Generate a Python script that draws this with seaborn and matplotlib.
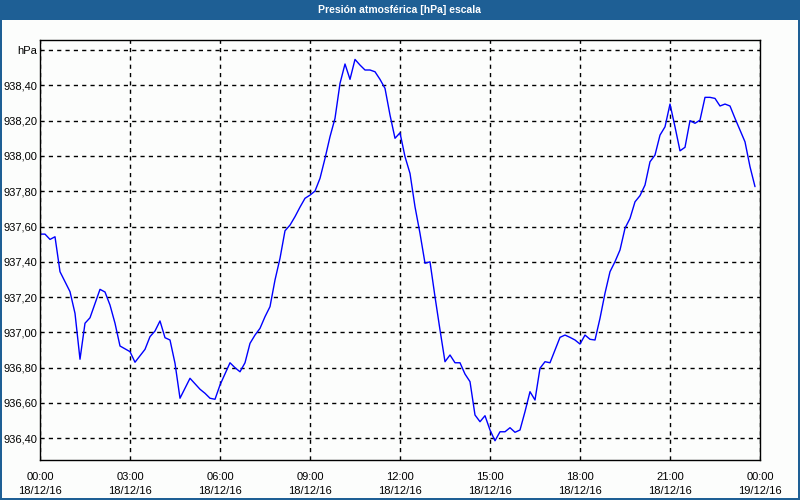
import matplotlib
matplotlib.use("Agg")
import matplotlib.pyplot as plt
import matplotlib.dates as mdates
from matplotlib.patches import Rectangle
from matplotlib.ticker import FixedLocator, FuncFormatter
import seaborn as sns
import pandas as pd

# minutes after 18/12/16 00:00
minutes = [0, 10, 20, 30, 40, 50, 60, 70, 80, 90, 100, 120, 130, 140, 150, 160, 180, 190,
           210, 220, 230, 240, 250, 260, 270, 280, 300, 320, 330, 340, 350, 360, 380, 390,
           400, 410, 420, 430, 440, 450, 460, 470, 480, 490, 500, 510, 520, 530, 540, 550,
           560, 570, 580, 590, 600, 610, 620, 630, 640, 650, 660, 670, 680, 690, 700, 710,
           720, 730, 740, 750, 760, 770, 780, 790, 800, 810, 820, 830, 840, 850, 860, 870,
           880, 890, 900, 910, 920, 930, 940, 950, 960, 970, 980, 990, 1000, 1010, 1020,
           1030, 1040, 1050, 1060, 1070, 1080, 1090, 1100, 1110, 1120, 1130, 1140, 1150,
           1160, 1170, 1180, 1190, 1200, 1210, 1220, 1230, 1240, 1250, 1260, 1270, 1280,
           1290, 1300, 1310, 1320, 1330, 1340, 1350, 1360, 1370, 1380, 1390, 1400, 1410,
           1420, 1430]
pressure = [937.557, 937.557, 937.527, 937.542, 937.344, 937.287, 937.231, 937.108, 936.848,
            937.052, 937.083, 937.244, 937.229, 937.155, 937.052, 936.923, 936.891, 936.831,
            936.904, 936.976, 937.008, 937.065, 936.970, 936.957, 936.825, 936.627, 936.740,
            936.678, 936.655, 936.627, 936.621, 936.702, 936.828, 936.800, 936.777, 936.828,
            936.938, 936.985, 937.023, 937.089, 937.146, 937.297, 937.420, 937.576, 937.608,
            937.656, 937.710, 937.760, 937.778, 937.801, 937.873, 937.986, 938.109, 938.213,
            938.411, 938.521, 938.434, 938.547, 938.515, 938.487, 938.487, 938.477, 938.434,
            938.383, 938.232, 938.100, 938.131, 937.996, 937.901, 937.712, 937.561, 937.392,
            937.400, 937.202, 937.014, 936.834, 936.872, 936.828, 936.828, 936.764, 936.721,
            936.532, 936.494, 936.528, 936.447, 936.386, 936.437, 936.437, 936.460, 936.434,
            936.447, 936.551, 936.664, 936.617, 936.797, 936.834, 936.828, 936.900, 936.972,
            936.985, 936.972, 936.957, 936.934, 936.985, 936.961, 936.957, 937.080, 937.222,
            937.344, 937.401, 937.467, 937.590, 937.646, 937.740, 937.775, 937.835, 937.967,
            938.005, 938.118, 938.165, 938.294, 938.165, 938.029, 938.049, 938.200, 938.185,
            938.203, 938.332, 938.332, 938.326, 938.283, 938.294, 938.283, 938.213, 938.147,
            938.080, 937.939, 937.826]

y_ticks = [936.4, 936.6, 936.8, 937.0, 937.2, 937.4, 937.6, 937.8, 938.0, 938.2, 938.4, 938.6]
unit_label = "hPa"
title = "Presión atmosférica [hPa] escala"
start = pd.Timestamp("2016-12-18 00:00")
end = pd.Timestamp("2016-12-19 00:00")

df = pd.DataFrame({"time": start + pd.to_timedelta(minutes, unit="m"), "p": pressure})

sns.set_style("white")
plt.rcParams["font.family"] = ["Liberation Sans", "DejaVu Sans"]

bg = "#fcfdfc"
bar = "#1e5f95"
fig = plt.figure(figsize=(8, 5), dpi=100, facecolor=bg)
ax = fig.add_axes([0.05, 0.08, 0.90, 0.84])
ax.set_facecolor(bg)

sns.lineplot(data=df, x="time", y="p", ax=ax, color="#0000ff", linewidth=1.0)

ax.set_xlim(start, end)
ax.set_ylim(936.277, 938.657)

ax.xaxis.set_major_locator(mdates.HourLocator(byhour=range(0, 24, 3)))
ax.xaxis.set_minor_locator(mdates.HourLocator())
ax.xaxis.set_major_formatter(mdates.DateFormatter("%H:%M\n%d/%m/%y"))

ax.yaxis.set_major_locator(FixedLocator(y_ticks))
def yfmt(v, pos):
    if abs(v - y_ticks[-1]) < 1e-6:
        return unit_label
    return f"{v:.2f}".replace(".", ",")
ax.yaxis.set_major_formatter(FuncFormatter(yfmt))

ax.grid(True, which="major", color="black", linestyle=(0, (3, 3)), linewidth=1.0)
for s in ax.spines.values():
    s.set_visible(True)
    s.set_color("black")
    s.set_linewidth(1.0)

ax.tick_params(axis="x", which="both", direction="out", length=3, width=1, color="black",
               labelsize=8, pad=6, labelcolor="black")
ax.tick_params(axis="y", which="both", length=0, labelsize=8, pad=2, labelcolor="black")
for lbl in ax.get_xticklabels():
    lbl.set_linespacing(1.4)
ax.set_xlabel("")
ax.set_ylabel("")

# title bar and window border
fig.patches.append(Rectangle((0, 1 - 20 / 500), 1, 20 / 500, transform=fig.transFigure,
                             facecolor=bar, edgecolor="none", zorder=0))
fig.patches.append(Rectangle((0, 0), 2 / 800, 1, transform=fig.transFigure,
                             facecolor=bar, edgecolor="none", zorder=0))
fig.patches.append(Rectangle((1 - 2 / 800, 0), 2 / 800, 1, transform=fig.transFigure,
                             facecolor=bar, edgecolor="none", zorder=0))
fig.patches.append(Rectangle((0, 0), 1, 2 / 500, transform=fig.transFigure,
                             facecolor=bar, edgecolor="none", zorder=0))
fig.text(0.5, 1 - 10 / 500, title, color="white", fontsize=7.5, fontweight="bold",
         ha="center", va="center")

fig.savefig("out.png", dpi=100, facecolor=bg)
